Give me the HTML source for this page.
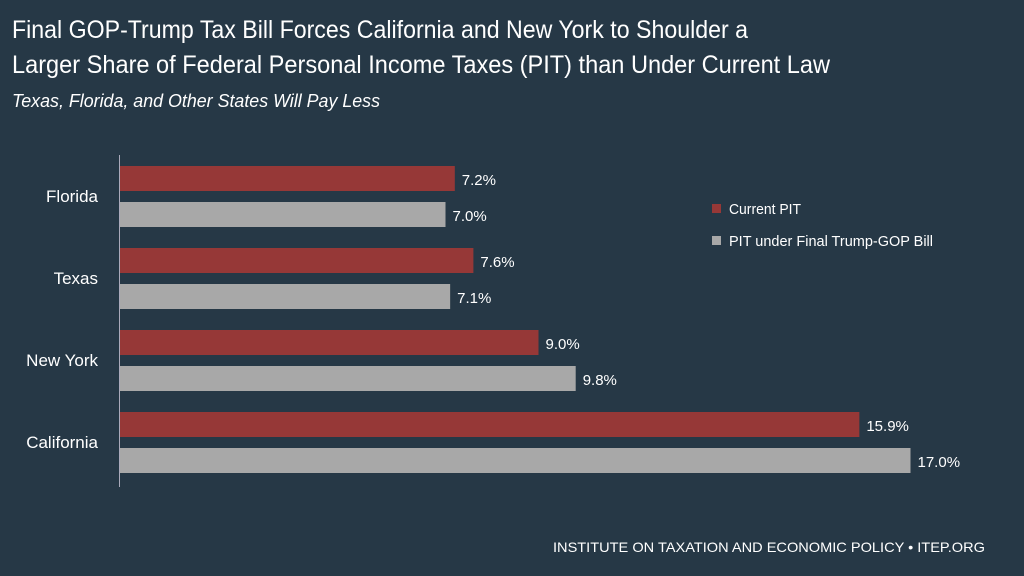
<!DOCTYPE html>
<html><head><meta charset="utf-8"><style>
html,body{margin:0;padding:0;background:#263846;}
svg{display:block;font-family:"Liberation Sans",sans-serif;}
</style></head><body>
<svg id="chart" width="1024" height="576">
<rect width="1024" height="576" fill="#263846"/>
<text x="12" y="38" font-size="25" fill="#fff" textLength="736" lengthAdjust="spacingAndGlyphs">Final GOP-Trump Tax Bill Forces California and New York to Shoulder a</text>
<text x="12" y="73" font-size="25" fill="#fff" textLength="818" lengthAdjust="spacingAndGlyphs">Larger Share of Federal Personal Income Taxes (PIT) than Under Current Law</text>
<text x="12" y="107" font-size="18" font-style="italic" fill="#fff" textLength="368" lengthAdjust="spacingAndGlyphs">Texas, Florida, and Other States Will Pay Less</text>
<line x1="119.5" y1="155" x2="119.5" y2="487" stroke="#aab" stroke-width="1"/>
<g id="bars"></g>
<rect x="712" y="204" width="9" height="9" fill="#963837"/>
<text x="729" y="214" font-size="15" fill="#fff" textLength="72" lengthAdjust="spacingAndGlyphs">Current PIT</text>
<rect x="712" y="236" width="9" height="9" fill="#a8a8a8"/>
<text x="729" y="246" font-size="15" fill="#fff" textLength="204" lengthAdjust="spacingAndGlyphs">PIT under Final Trump-GOP Bill</text>
<text x="985" y="552" font-size="14" fill="#fff" text-anchor="end" textLength="432" lengthAdjust="spacingAndGlyphs">INSTITUTE ON TAXATION AND ECONOMIC POLICY • ITEP.ORG</text>
</svg>
<script>
const categories = ["Florida","Texas","New York","California"];
const currentPIT = [7.2,7.6,9.0,15.9];
const finalPIT = [7.0,7.1,9.8,17.0];
const x0 = 120, pxPerPct = 46.5;
const xScale = v => x0 + v * pxPerPct;
const groupTop = i => 166 + i * 82;
const g = document.getElementById('bars');
const NS = 'http://www.w3.org/2000/svg';
categories.forEach((c, i) => {
  const top = groupTop(i);
  const lab = document.createElementNS(NS, 'text');
  
  
  lab.setAttribute('x', 98); lab.setAttribute('y', top + 36);
  lab.setAttribute('text-anchor', 'end'); lab.setAttribute('font-size', '17'); lab.setAttribute('fill', '#fff');
  lab.textContent = c; g.appendChild(lab);
  [[currentPIT[i], '#963837', 0, 'bar-current'], [finalPIT[i], '#a8a8a8', 36, 'bar-final']].forEach(([v, col, dy, nm]) => {
    const r = document.createElementNS(NS, 'rect');
    
    
    r.setAttribute('x', x0); r.setAttribute('y', top + dy);
    r.setAttribute('width', xScale(v) - x0); r.setAttribute('height', 25);
    r.setAttribute('fill', col); g.appendChild(r);
    const t = document.createElementNS(NS, 'text');
    
    
    t.setAttribute('x', xScale(v) + 7); t.setAttribute('y', top + dy + 19);
    t.setAttribute('font-size', '15'); t.setAttribute('fill', '#fff');
    t.textContent = v.toFixed(1) + '%'; g.appendChild(t);
  });
});
</script>
</body></html>
